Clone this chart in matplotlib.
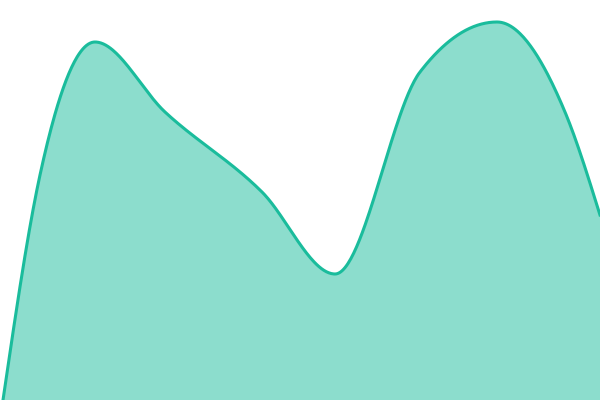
import numpy as np
import matplotlib.pyplot as plt

# data (x position, value on a 0-400 scale)
x_vals = [3, 40, 95, 165, 262, 335, 420, 497, 565, 600]
y_vals = [0, 225, 358, 288, 208, 126, 328, 378, 288, 185]

line_color = '#1abc9c'


def monotone_x(xs, ys, n=60):
    # monotone cubic interpolation (same idea as d3.curveMonotoneX)
    xs = np.asarray(xs, float)
    ys = np.asarray(ys, float)
    h = np.diff(xs)
    s = np.diff(ys) / h
    m = np.zeros_like(xs)
    for i in range(1, len(xs) - 1):
        p = (s[i - 1] * h[i] + s[i] * h[i - 1]) / (h[i - 1] + h[i])
        m[i] = (np.sign(s[i - 1]) + np.sign(s[i])) * min(abs(s[i - 1]), abs(s[i]), 0.5 * abs(p))
    m[0] = (3 * s[0] - m[1]) / 2
    m[-1] = (3 * s[-1] - m[-2]) / 2
    out_x, out_y = [], []
    for i in range(len(xs) - 1):
        t = np.linspace(0, 1, n)
        h00 = 2 * t**3 - 3 * t**2 + 1
        h10 = t**3 - 2 * t**2 + t
        h01 = -2 * t**3 + 3 * t**2
        h11 = t**3 - t**2
        out_x.append(xs[i] + t * h[i])
        out_y.append(h00 * ys[i] + h10 * h[i] * m[i] + h01 * ys[i + 1] + h11 * h[i] * m[i + 1])
    return np.concatenate(out_x), np.concatenate(out_y)


cx, cy = monotone_x(x_vals, y_vals)

fig = plt.figure(figsize=(6, 4), dpi=100)
ax = fig.add_axes([0, 0, 1, 1])
ax.fill_between(cx, 0, cy, color=line_color, alpha=0.5, linewidth=0)
ax.plot(cx, cy, color=line_color, linewidth=2.2)
ax.set_xlim(0, 600)
ax.set_ylim(0, 400)
ax.axis('off')

fig.savefig('out.png', dpi=100)
